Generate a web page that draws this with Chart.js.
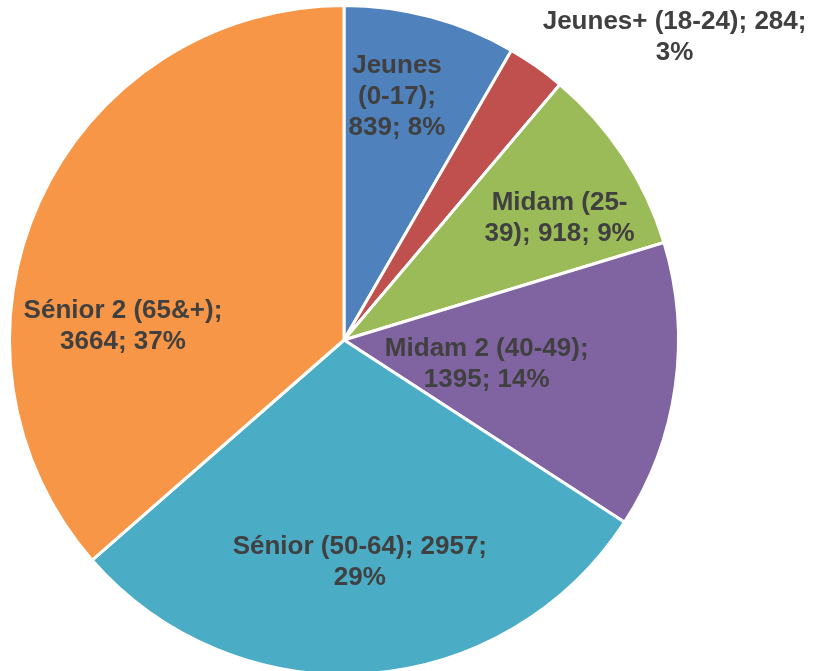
<!DOCTYPE html>
<html>
<head>
<meta charset="utf-8">
<script src="https://cdn.jsdelivr.net/npm/chart.js@4/dist/chart.umd.min.js"></script>
<style>
  body { margin: 0; background: #ffffff; overflow: hidden; }
  #pie { display: block; }
</style>
</head>
<body>
<canvas id="pie" width="813" height="690"></canvas>
<script>
// Age groups and counts
const categories = ['Jeunes (0-17)', 'Jeunes+ (18-24)', 'Midam (25-39)', 'Midam 2 (40-49)', 'Sénior (50-64)', 'Sénior 2 (65&+)'];
const counts = [839, 284, 918, 1395, 2957, 3664];
const percents = [8, 3, 9, 14, 29, 37];
const sliceColors = ['#4F81BD', '#C0504D', '#9BBB59', '#8064A2', '#4BACC6', '#F79646'];

// label placement: fraction of slice angle, fraction of radius, wrap width
const labelAngleFrac = [0.41, 1.72, 0.62, 0.535, 0.50, 0.34];
const labelRadiusFrac = [0.743, 1.34, 0.74, 0.433, 0.666, 0.662];
const labelWrap = [105, 275, 160, 212, 272, 212];

const LABEL_FONT = 'bold 26px "Liberation Sans", Arial, sans-serif';
const LINE_H = 31;

function wrapText(ctx, text, maxWidth) {
    const tokens = text.split(/(?<=[ -])/);
    const lines = [];
    let cur = '';
    tokens.forEach(t => {
        const test = cur + t;
        if (cur && ctx.measureText(test.trim()).width > maxWidth) {
            lines.push(cur.trim());
            cur = t;
        } else {
            cur = test;
        }
    });
    if (cur.trim()) lines.push(cur.trim());
    return lines;
}

const sliceLabels = {
    id: 'sliceLabels',
    afterDatasetsDraw(chart) {
        const ctx = chart.ctx;
        const arcs = chart.getDatasetMeta(0).data;
        ctx.save();
        ctx.font = LABEL_FONT;
        ctx.fillStyle = '#404040';
        ctx.textAlign = 'center';
        ctx.textBaseline = 'middle';
        arcs.forEach((arc, i) => {
            const a = arc.startAngle + labelAngleFrac[i] * (arc.endAngle - arc.startAngle);
            const r = arc.outerRadius * labelRadiusFrac[i];
            const x = arc.x + Math.cos(a) * r;
            const y = arc.y + Math.sin(a) * r;
            const text = categories[i] + '; ' + counts[i] + '; ' + percents[i] + '%';
            const lines = wrapText(ctx, text, labelWrap[i]);
            const top = y - (lines.length - 1) * LINE_H / 2;
            lines.forEach((ln, k) => ctx.fillText(ln, x, top + k * LINE_H));
        });
        ctx.restore();
    }
};

new Chart(document.getElementById('pie'), {
    type: 'pie',
    data: {
        labels: categories,
        datasets: [{
            data: counts,
            backgroundColor: sliceColors,
            borderColor: '#ffffff',
            borderWidth: 3,
            hoverOffset: 0,
            offset: 0
        }]
    },
    options: {
        responsive: false,
        animation: false,
        layout: { padding: { left: 8, right: 133, top: 4, bottom: 14 } },
        plugins: {
            legend: { display: false },
            tooltip: { enabled: false }
        }
    },
    plugins: [sliceLabels]
});
</script>
</body>
</html>
